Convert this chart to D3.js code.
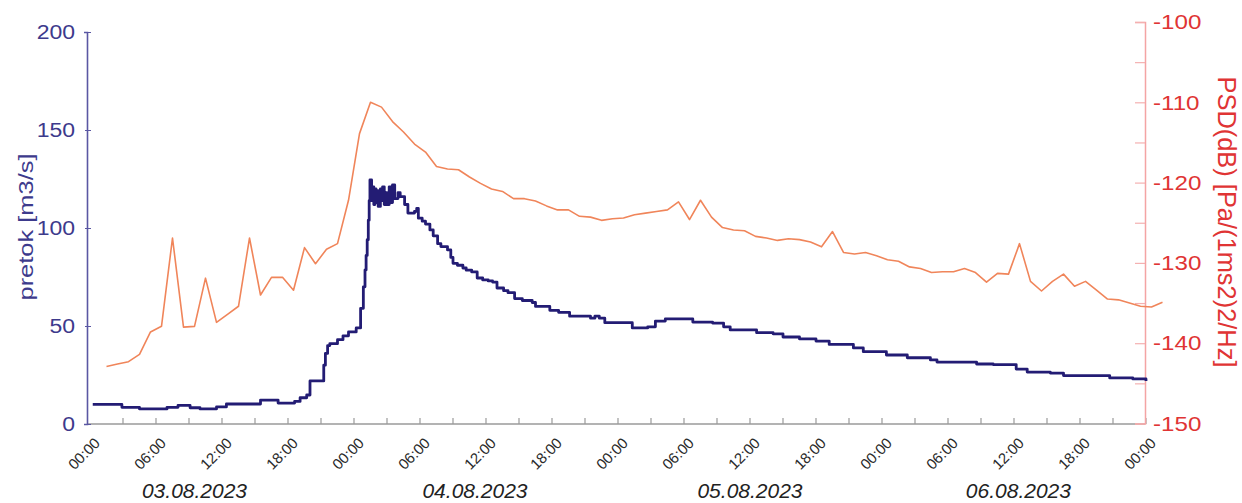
<!DOCTYPE html>
<html>
<head>
<meta charset="utf-8">
<script src="https://cdn.jsdelivr.net/npm/d3@7/dist/d3.min.js"></script>
<style>
  html, body { margin: 0; padding: 0; background: #ffffff; }
  svg { display: block; font-family: "Liberation Sans", Arial, sans-serif; }
</style>
</head>
<body>
<svg id="chart" width="1242" height="503"></svg>
<script>
// ---- Data (hours since 03.08.2023 00:00) ----
const flowHours = [0.25, 2.9, 4.5, 7.0, 8.0, 9.1, 10.0, 11.5, 12.4, 15.5, 17.1, 18.6, 19.1, 19.7, 20.0, 21.25,
  21.4, 21.6, 21.8, 22.5, 23.0, 23.5, 24.2, 24.6, 24.85, 25.0, 25.1, 25.2, 25.3, 25.38, 25.45,
  25.6, 25.7, 25.8, 25.9, 26.0, 26.1, 26.2, 26.4, 26.5, 26.6, 26.75, 26.9, 27.0, 27.2, 27.35, 27.5, 27.7, 28.0, 28.2,
  28.6, 28.9, 29.5, 29.7, 29.85, 30.2, 30.5, 30.9, 31.2, 31.6, 31.9, 32.5, 32.8, 33.0, 33.4, 33.9, 34.2, 34.7, 35.2,
  35.7, 36.2, 36.6, 37.0, 37.6, 38.0, 38.6, 39.3,
  40.2, 40.5, 41.8, 42.6, 43.6, 45.5, 45.9, 46.3, 46.8, 49.3, 50.7, 51.4, 52.3, 54.8, 56.6, 57.6, 58.2,
  60.6, 62.1, 63.0, 64.5, 66.0, 67.2, 69.4, 70.3, 72.4, 74.3, 76.4, 77.0, 80.6, 82.1, 84.2, 85.2, 87.3,
  88.5, 92.7, 94.8, 96.0];
const flowValues = [10, 8.5, 7.7, 8.5, 9.5, 8.3, 7.7, 8.7, 10.2, 12.2, 10.7, 11.5, 13.4, 14.8, 22, 30,
  36, 40, 41, 43, 45, 47, 49, 59, 70, 78.6, 86, 94, 104, 114, 124.5,
  114, 121, 112, 120, 113, 119, 111, 120, 114, 121, 112, 118, 112, 121, 113, 122, 115, 118, 116,
  112, 107.6, 108.5, 110, 105, 103.5, 102, 99, 96, 92, 90.5, 88.8, 85, 82, 81, 79.6, 78.5, 77.6, 74.5,
  73.5, 73, 72.4, 69.4, 68, 67, 64, 63,
  62, 60, 58, 57, 55, 54, 55, 54, 51.7, 49, 49.6, 52.5, 53.6, 52, 51.5, 49.6, 48,
  46.6, 46, 44.4, 43.4, 42.3, 40.6, 38.8, 36.9, 35.2, 33.8, 32.7, 31.6, 30.6, 30.3, 28, 26.5, 26,
  24.7, 23.5, 23, 22];

// PSD hourly values, first at 01:30 on 03.08.2023
const psdStartHour = 1.5;
const psdValues = [
  -142.9, -142.6, -142.3, -141.4, -138.6, -137.9, -126.9, -138.0, -137.9, -131.9,
  -137.4, -136.4, -135.4, -126.9, -134.0, -131.8, -131.8, -133.4, -128.1, -130.1,
  -128.3, -127.6, -122.2, -113.9, -110.0, -110.6, -112.4, -113.7, -115.2, -116.2,
  -118.0, -118.3, -118.4, -119.3, -120.1, -120.8, -121.1, -122.0, -122.0, -122.3,
  -122.9, -123.4, -123.4, -124.2, -124.3, -124.7, -124.5, -124.4, -124.0, -123.8,
  -123.6, -123.4, -122.4, -124.6, -122.2, -124.3, -125.6, -125.9, -126.0, -126.7,
  -126.9, -127.2, -127.0, -127.1, -127.4, -128.0, -126.1, -128.7, -128.9, -128.7,
  -129.1, -129.6, -129.8, -130.5, -130.7, -131.2, -131.1, -131.1, -130.7, -131.2,
  -132.4, -131.3, -131.4, -127.6, -132.3, -133.5, -132.3, -131.4, -132.9, -132.3,
  -133.4, -134.5, -134.6, -135.0, -135.4, -135.5, -134.9];

const leftTicks = [0, 50, 100, 150, 200];
const rightTicks = [-150, -145, -140, -135, -130, -125, -120, -115, -110, -105, -100];
const dayLabels = ["03.08.2023", "04.08.2023", "05.08.2023", "06.08.2023"];
const dayLabelHours = [9.5, 35, 60, 84.4];
const leftTitle = "pretok [m3/s]";
const rightTitle = "PSD(dB) [Pa/(1ms2)2/Hz]";

// ---- Setup ----
const t0 = new Date(2023, 7, 3, 0, 0);
const t1 = new Date(2023, 7, 7, 0, 0);
const hToDate = h => new Date(t0.getTime() + h * 3600000);

const svg = d3.select("#chart");
const x = d3.scaleTime().domain([t0, t1]).range([90, 1146]);
const yL = d3.scaleLinear().domain([0, 200]).range([424, 32]);
const yR = d3.scaleLinear().domain([-150, -100]).range([423.5, 22]);

const leftColor = "#3d3a8c";
const rightColor = "#e03434";

function stretch(sel, f) {
  sel.each(function () {
    const len = this.getComputedTextLength();
    d3.select(this).attr("textLength", len * f).attr("lengthAdjust", "spacingAndGlyphs");
  });
}

// ---- X axis ----
const xAxisG = svg.append("g").attr("transform", "translate(0,424)");
xAxisG.append("line").attr("x1", 87).attr("x2", 1145).attr("y1", 0).attr("y2", 0)
  .attr("stroke", "#9a9a9a").attr("stroke-width", 1.5);
const xTicks = d3.timeHour.range(t0, new Date(t1.getTime() + 1), 3);
xAxisG.selectAll("line.tick").data(xTicks.slice(1)).join("line").attr("class", "tick")
  .attr("x1", d => x(d)).attr("x2", d => x(d)).attr("y1", 0).attr("y2", -6)
  .attr("stroke", "#9a9a9a").attr("stroke-width", 1.2);
const fmt = d3.timeFormat("%H:%M");
const labTicks = xTicks.filter(d => d.getHours() % 6 === 0);
xAxisG.selectAll("text.tl").data(labTicks).join("text").attr("class", "tl")
  .attr("transform", d => `translate(${x(d) + 11},${20}) rotate(-45)`)
  .attr("text-anchor", "end")
  .attr("font-size", 15)
  .attr("fill", "#2a2a2a")
  .text(d => fmt(d));

svg.selectAll("text.day").data(dayLabels).join("text").attr("class", "day")
  .attr("x", (d, i) => x(hToDate(dayLabelHours[i])))
  .attr("y", 498)
  .attr("text-anchor", "middle")
  .attr("font-size", 21)
  .attr("font-style", "italic")
  .attr("fill", "#222")
  .text(d => d);

// ---- Left axis ----
const lAxis = svg.append("g").attr("transform", "translate(87,0)")
  .call(d3.axisLeft(yL).tickValues(leftTicks).tickSize(3).tickPadding(9));
lAxis.select(".domain").attr("stroke", "#5a57a3").attr("stroke-width", 1.6);
lAxis.selectAll(".tick line").attr("stroke", "#5a57a3").attr("x2", 4).attr("x1", -2);
lAxis.selectAll(".tick text").attr("font-size", 20).attr("fill", leftColor)
  .attr("font-family", "Liberation Sans, Arial, sans-serif").attr("x", -12);
stretch(lAxis.selectAll(".tick text"), 1.15);

// ---- Right axis ----
const rAxis = svg.append("g").attr("transform", "translate(1145,0)")
  .call(d3.axisRight(yR).tickValues(rightTicks).tickSize(-10).tickPadding(8)
    .tickFormat(d => (d % 10 === 0 ? d3.format("d")(d).replace("−", "-") : "")));
rAxis.select(".domain").attr("stroke", "#f4a4a4").attr("stroke-width", 1.5);
rAxis.selectAll(".tick line").attr("stroke", "#f4b0b0").attr("stroke-width", 1.2);
rAxis.selectAll(".tick text").attr("font-size", 21).attr("fill", rightColor)
  .attr("font-family", "Liberation Sans, Arial, sans-serif").attr("x", 8);
stretch(rAxis.selectAll(".tick text").filter(function () { return this.textContent.length > 0; }), 1.15);

// ---- Axis titles ----
svg.append("text")
  .attr("transform", "translate(33,227) rotate(-90)")
  .attr("text-anchor", "middle")
  .attr("font-size", 21)
  .attr("fill", leftColor)
  .attr("textLength", 147).attr("lengthAdjust", "spacingAndGlyphs")
  .text(leftTitle);
svg.append("text")
  .attr("transform", "translate(1218,222) rotate(90)")
  .attr("text-anchor", "middle")
  .attr("font-size", 26)
  .attr("fill", rightColor)
  .attr("textLength", 291).attr("lengthAdjust", "spacingAndGlyphs")
  .text(rightTitle);

// ---- Lines ----
const psdData = psdValues.map((v, i) => ({ t: hToDate(psdStartHour + i), v }));
svg.append("path").datum(psdData)
  .attr("fill", "none").attr("stroke", "#f0855a").attr("stroke-width", 1.6)
  .attr("stroke-linejoin", "round")
  .attr("d", d3.line().x(d => x(d.t)).y(d => yR(d.v)));

const flowData = flowHours.map((h, i) => ({ t: hToDate(h), v: flowValues[i] }));
svg.append("path").datum(flowData)
  .attr("fill", "none").attr("stroke", "#231c74").attr("stroke-width", 2.8)
  .attr("stroke-linejoin", "round")
  .attr("d", d3.line().curve(d3.curveStepAfter).x(d => x(d.t)).y(d => yL(d.v)));
</script>
</body>
</html>
